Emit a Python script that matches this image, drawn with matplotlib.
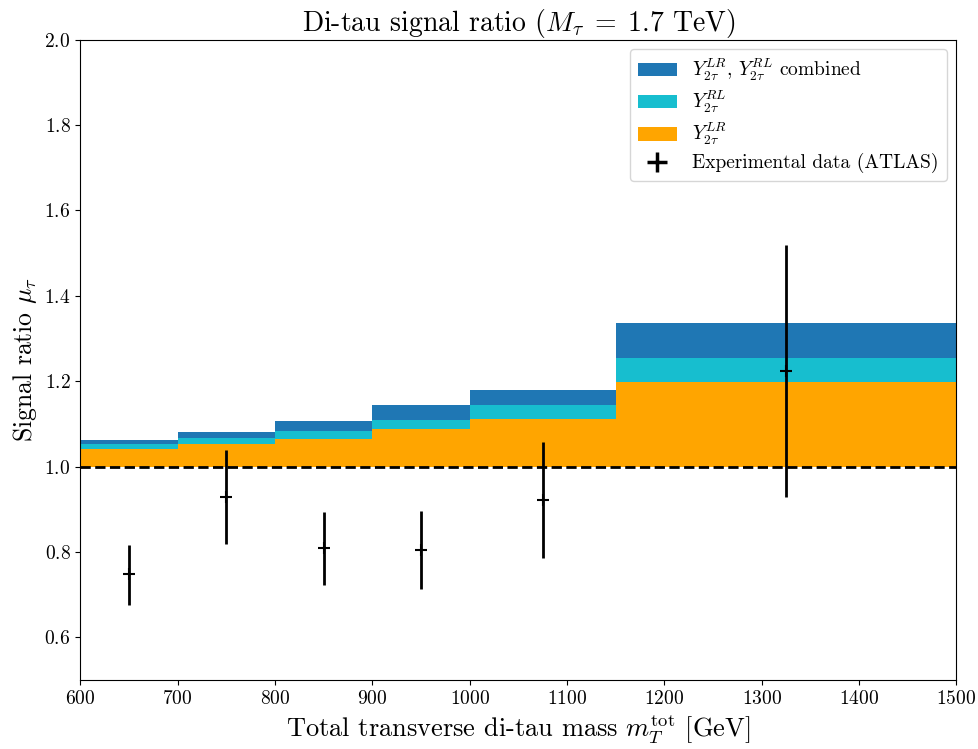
import numpy as np
import matplotlib
matplotlib.use('Agg')
import matplotlib.pyplot as plt
from matplotlib.lines import Line2D

plt.rcParams['font.family'] = 'serif'
plt.rcParams['font.serif'] = ['cmr10']
plt.rcParams['mathtext.fontset'] = 'cm'
plt.rcParams['axes.formatter.use_mathtext'] = True

# bordes de los bins en m_T^tot
bordes = [600, 700, 800, 900, 1000, 1150, 1500]
mu_lr = [1.041, 1.053, 1.064, 1.088, 1.111, 1.198]
mu_rl = [1.052, 1.067, 1.083, 1.109, 1.144, 1.254]
mu_comb = [1.063, 1.081, 1.106, 1.144, 1.179, 1.336]

# datos experimentales (ATLAS)
x_datos = [650, 750, 850, 950, 1075, 1325]
y_datos = [0.748, 0.929, 0.809, 0.805, 0.921, 1.223]
err_arriba = [0.069, 0.109, 0.085, 0.090, 0.136, 0.296]
err_abajo = [0.071, 0.110, 0.086, 0.092, 0.136, 0.294]

fig, ax = plt.subplots(figsize=(9.79, 7.49), dpi=100)

h1 = ax.stairs(mu_comb, bordes, baseline=1.0, fill=True, color='#1f77b4',
               label=r'$Y_{2\tau}^{LR}$, $Y_{2\tau}^{RL}$ combined')
h2 = ax.stairs(mu_rl, bordes, baseline=1.0, fill=True, color='#17becf',
               label=r'$Y_{2\tau}^{RL}$')
h3 = ax.stairs(mu_lr, bordes, baseline=1.0, fill=True, color='orange',
               label=r'$Y_{2\tau}^{LR}$')

ax.axhline(1.0, color='black', linestyle='--', linewidth=2)

ax.errorbar(x_datos, y_datos, yerr=[err_abajo, err_arriba], fmt='+',
            color='black', markersize=9, markeredgewidth=1.5, elinewidth=2,
            capsize=0, zorder=5)
h4 = Line2D([], [], linestyle='none', marker='+', color='black',
            markersize=14, markeredgewidth=2.5, label='Experimental data (ATLAS)')

ax.set_xlim(600, 1500)
ax.set_ylim(0.5, 2.0)
ax.set_yticks([0.6, 0.8, 1.0, 1.2, 1.4, 1.6, 1.8, 2.0])
ax.tick_params(labelsize=14)
ax.set_xlabel(r'Total transverse di-tau mass $m_T^{\mathrm{tot}}$ [GeV]', fontsize=19)
ax.set_ylabel(r'Signal ratio $\mu_\tau$', fontsize=18.5)
ax.set_title(r'Di-tau signal ratio ($M_\tau\;=\;1.7$ TeV)', fontsize=20)
ax.legend(handles=[h1, h2, h3, h4], loc='upper right', fontsize=14,
          labelspacing=0.3, handlelength=2.0)

fig.subplots_adjust(left=0.082, right=0.977, top=0.947, bottom=0.092)
fig.savefig('out.png', dpi=100)
